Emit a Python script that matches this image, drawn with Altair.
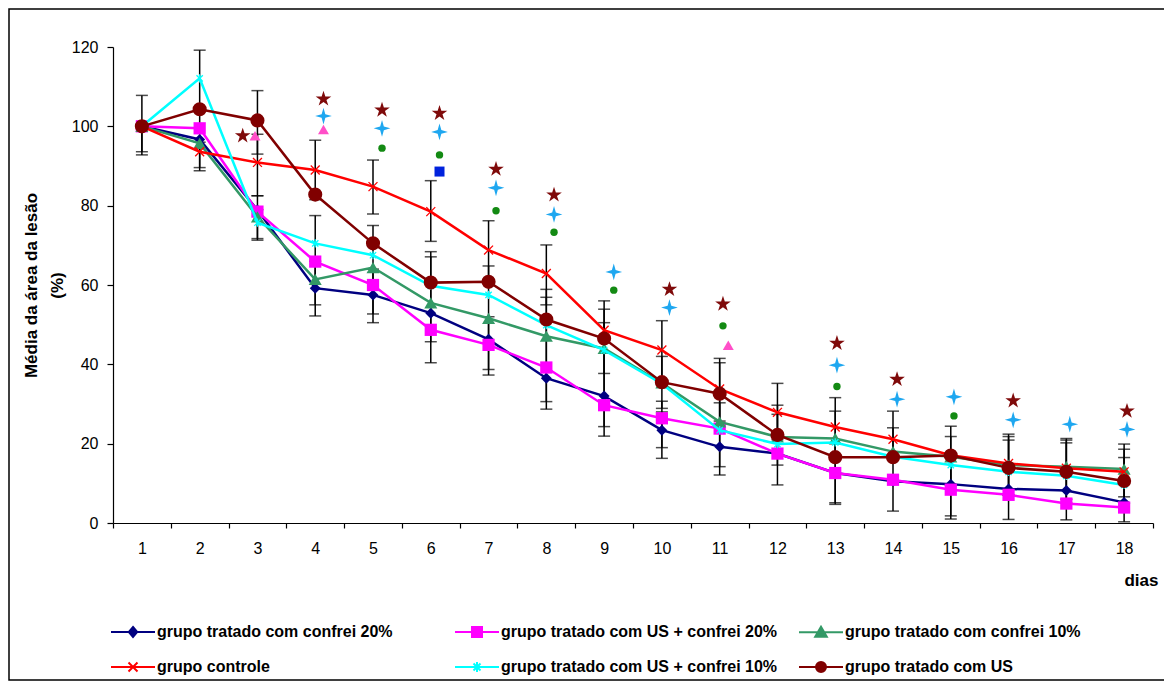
import altair as alt
import pandas as pd

# ---------------- data ----------------
dias = list(range(1, 19))
series = [
    "grupo tratado com confrei 20%",
    "grupo tratado com US + confrei 20%",
    "grupo tratado com confrei 10%",
    "grupo controle",
    "grupo tratado com US + confrei 10%",
    "grupo tratado com US",
]
confrei20 = [100, 96.7, 78.9, 59.2, 57.5, 52.9, 46.3, 36.5, 32.0, 23.4, 19.2, 17.5, 12.6, 10.5, 9.8, 8.6, 8.2, 5.2]
us_confrei20 = [100, 99.5, 78.5, 65.9, 60.0, 48.7, 44.9, 39.2, 29.7, 26.4, 23.8, 17.5, 12.6, 10.9, 8.4, 7.1, 4.9, 3.9]
confrei10 = [100, 95.7, 77.2, 61.4, 64.4, 55.5, 51.6, 47.1, 44.0, 35.3, 25.5, 21.7, 21.3, 18.0, 16.7, 14.6, 14.2, 13.6]
controle = [100, 93.6, 90.9, 89.0, 84.8, 78.5, 68.8, 62.9, 48.6, 43.6, 33.8, 27.9, 24.2, 21.1, 17.1, 15.0, 13.8, 12.9]
us_confrei10 = [100, 112.1, 75.7, 70.5, 67.5, 59.8, 57.5, 49.9, 43.6, 35.1, 23.4, 19.9, 20.3, 16.7, 14.6, 12.9, 11.9, 9.6]
us = [100, 104.3, 101.5, 82.8, 70.5, 60.6, 60.8, 51.3, 46.5, 35.5, 32.6, 22.2, 16.6, 16.6, 17.0, 13.9, 12.9, 10.6]
valores = [confrei20, us_confrei20, confrei10, controle, us_confrei10, us]

# error bars (day, lower end, upper end)
eb_dia = [1, 1, 2, 2, 3, 3, 3, 3, 4, 4, 4, 5, 5, 5, 6, 6, 6, 7, 7, 7, 8, 8, 8, 9, 9, 9,
          10, 10, 10, 10, 11, 11, 11, 11, 12, 12, 12, 13, 13, 13, 14, 14, 15, 15, 15,
          16, 16, 16, 17, 17, 17, 18, 18, 18]
eb_min = [92.8, 93.6, 88.8, 89.6, 93.0, 82.5, 71.3, 71.7, 81.5, 55.0, 52.2, 77.9, 50.5, 52.7,
          71.0, 45.7, 40.4, 61.0, 38.7, 37.3, 55.0, 28.7, 30.6, 37.7, 24.3, 21.9,
          36.0, 28.9, 16.3, 19.0, 25.7, 24.5, 12.1, 14.2, 21.0, 9.6, 14.6, 16.5, 4.7, 5.1,
          16.5, 3.0, 9.5, 1.0, 1.8, 7.0, 0.9, 7.0, 0.8, 5.0, 6.0, 6.6, 0.3, 5.0]
eb_max = [107.8, 100.0, 119.2, 96.0, 109.0, 98.0, 82.5, 79.0, 96.5, 77.5, 66.0, 91.5, 75.0, 64.0,
          86.3, 68.4, 67.1, 76.2, 64.8, 52.0, 70.1, 58.9, 56.9, 56.0, 53.9, 50.5,
          51.0, 42.0, 30.7, 28.0, 41.5, 40.4, 30.3, 25.0, 35.2, 29.7, 27.4, 31.6, 28.2, 20.0,
          28.2, 24.0, 24.4, 21.8, 17.0, 22.4, 21.8, 20.9, 21.3, 20.9, 20.2, 19.9, 18.6, 16.5]

# significance symbols above the curves
estrela_x = [2.745, 4.143, 5.156, 6.151, 7.129, 8.133, 10.131, 11.057, 13.03, 14.07, 16.08, 18.05]
estrela_y = [97.6, 106.9, 104.1, 103.3, 89.2, 82.7, 58.9, 55.2, 45.3, 36.2, 30.8, 28.2]
cruz_x = [4.143, 5.156, 6.151, 7.129, 8.133, 9.167, 10.131, 13.03, 14.07, 15.055, 16.08, 17.06, 18.05]
cruz_y = [102.6, 99.5, 98.6, 84.5, 77.8, 63.3, 54.3, 39.8, 31.2, 31.8, 26.0, 24.9, 23.6]
ponto_x = [5.156, 6.151, 7.129, 8.133, 9.167, 11.057, 13.03, 15.055]
ponto_y = [94.5, 92.8, 78.7, 73.3, 58.7, 49.7, 34.4, 27.0]
triang_x = [2.958, 4.143, 11.149]
triang_y = [97.6, 99.2, 44.8]
quad_x = [6.151]
quad_y = [88.6]

eixo_y = [0, 20, 40, 60, 80, 100, 120]

# ---------------- styles ----------------
cores = ["#000080", "#ff00ff", "#339966", "#ff0000", "#00ffff", "#800000"]
marcadores = [
    dict(shape="diamond", size=120, filled=True, strokeWidth=0),
    dict(shape="square", size=150, filled=True, strokeWidth=0),
    dict(shape="triangle-up", size=170, filled=True, strokeWidth=0),
    dict(shape="M-1,-1L1,1M-1,1L1,-1", size=80, filled=False, strokeWidth=1.3),
    dict(shape="M-1,-1L1,1M-1,1L1,-1M0,-1.3V1.3", size=40, filled=False, strokeWidth=1.3),
    dict(shape="circle", size=200, filled=True, strokeWidth=0),
]
linha = "M-2.2,0H2.2"
legenda_paths = [
    linha + "M0,-0.5L0.42,0L0,0.5L-0.42,0Z",
    linha + "M-0.5,-0.5H0.5V0.5H-0.5Z",
    linha + "M0,-0.55L0.58,0.45H-0.58Z",
    linha + "M-0.45,-0.45L0.45,0.45M-0.45,0.45L0.45,-0.45",
    linha + "M-0.35,-0.35L0.35,0.35M-0.35,0.35L0.35,-0.35M0,-0.5V0.5",
    linha + "M0.5,0A0.5,0.5,0,1,1,-0.5,0A0.5,0.5,0,1,1,0.5,0Z",
]

FONT = "Liberation Sans"
W, H = 1040, 476
PAD_L, PAD_T = 105, 39
STEP = W / 18.0

df = pd.DataFrame(
    [{"dia": d, "valor": v, "serie": s} for s, vals in zip(series, valores) for d, v in zip(dias, vals)]
)
df_eb = pd.DataFrame({"dia": eb_dia, "lo": eb_min, "hi": eb_max})

limites = [d - 0.5 for d in dias] + [dias[-1] + 0.5]

x_enc = alt.X(
    "dia:Q",
    scale=alt.Scale(domain=[0.5, 18.5], nice=False, zero=False),
    axis=alt.Axis(
        values=limites,
        labelExpr="datum.value < 18 ? format(datum.value + 0.5, 'd') : ''",
        labelOffset=STEP / 2,
        labelOverlap=False,
        labelFlush=False,
        labelPadding=12,
        tickSize=5,
        grid=False,
        title="dias",
        titleX=W + 5,
        titleY=57,
        titleAlign="right",
        titleBaseline="middle",
        titleFontSize=17,
        titleFontWeight="bold",
    ),
)
y_scale = alt.Scale(domain=[0, 120], nice=False, zero=True)
y_enc = alt.Y(
    "valor:Q",
    scale=y_scale,
    axis=alt.Axis(
        values=eixo_y,
        grid=False,
        tickSize=6,
        labelPadding=9,
        title=["Média da área da lesão", "(%)"],
        titleFontSize=17,
        titleFontWeight="bold",
        titleLineHeight=26,
        titleX=-90,
        titleY=H / 2,
        titleAlign="center",
        titleBaseline="top",
        titleAngle=270,
    ),
)

camadas = []

# outer frame (decoration)
frame = alt.Chart(pd.DataFrame({"a": [0]})).mark_rect(
    fillOpacity=0, stroke="#000000", strokeWidth=1.5
).encode(
    x=alt.value(-PAD_L + 1), x2=alt.value(W + 14),
    y=alt.value(-PAD_T + 1), y2=alt.value(H + 157),
)
camadas.append(frame)

# error bars
barras = alt.Chart(df_eb).mark_rule(color="#000000", strokeWidth=1.5).encode(
    x=x_enc, y=alt.Y("lo:Q", scale=y_scale), y2="hi:Q"
)
cap_lo = alt.Chart(df_eb).mark_tick(orient="horizontal", color="#000000", size=12, thickness=1.5).encode(
    x=x_enc, y=alt.Y("lo:Q", scale=y_scale)
)
cap_hi = alt.Chart(df_eb).mark_tick(orient="horizontal", color="#000000", size=12, thickness=1.5).encode(
    x=x_enc, y=alt.Y("hi:Q", scale=y_scale)
)
camadas += [barras, cap_lo, cap_hi]

# series: line + markers
for nome, cor, mk in zip(series, cores, marcadores):
    base = alt.Chart(df).transform_filter(alt.datum.serie == nome)
    camadas.append(base.mark_line(color=cor, strokeWidth=2.5).encode(x=x_enc, y=y_enc))
    camadas.append(
        base.mark_point(
            shape=mk["shape"], size=mk["size"], filled=mk["filled"], color=cor,
            strokeWidth=mk["strokeWidth"] if mk["strokeWidth"] else 1, opacity=1,
        ).encode(x=x_enc, y=y_enc)
    )

# significance symbols
STAR = "M0,-1L0.2245,-0.309L0.951,-0.309L0.363,0.118L0.588,0.809L0,0.382L-0.588,0.809L-0.363,0.118L-0.951,-0.309L-0.2245,-0.309Z"
CRUZ4 = "M0,-1L0.22,-0.22L1,0L0.22,0.22L0,1L-0.22,0.22L-1,0L-0.22,-0.22Z"
simbolos = [
    (estrela_x, estrela_y, STAR, 270, "#7f0a0a"),
    (cruz_x, cruz_y, CRUZ4, 280, "#1ea7f0"),
    (ponto_x, ponto_y, "circle", 55, "#138a13"),
    (triang_x, triang_y, "triangle-up", 120, "#ff4fc8"),
    (quad_x, quad_y, "square", 100, "#0022dd"),
]
for xs, ys, shp, sz, cor in simbolos:
    camadas.append(
        alt.Chart(pd.DataFrame({"dia": xs, "valor": ys}))
        .mark_point(shape=shp, size=sz, filled=True, color=cor, opacity=1)
        .encode(x=x_enc, y=y_enc)
    )

# legend (no drawn marks, only the legend built from the scales)
leg = alt.Legend(
    orient="none",
    legendX=9,
    legendY=574,
    columns=3,
    direction="horizontal",
    title=None,
    labelFont=FONT,
    labelFontSize=16,
    labelFontWeight="bold",
    labelColor="#000000",
    labelLimit=0,
    labelOffset=13,
    symbolSize=400,
    symbolStrokeWidth=2,
    symbolOpacity=1,
    columnPadding=17,
    rowPadding=15,
    gridAlign="all",
)
legenda = (
    alt.Chart(df)
    .transform_filter("false")
    .mark_point(filled=True, size=400, opacity=1)
    .encode(
        x=x_enc,
        y=y_enc,
        color=alt.Color("serie:N", scale=alt.Scale(domain=series, range=cores), legend=leg),
        stroke=alt.Stroke("serie:N", scale=alt.Scale(domain=series, range=cores), legend=leg),
        shape=alt.Shape("serie:N", scale=alt.Scale(domain=series, range=legenda_paths), legend=leg),
    )
)
camadas.append(legenda)

chart = (
    alt.layer(*camadas)
    .properties(
        width=W,
        height=H,
        autosize=alt.AutoSizeParams(type="none"),
        padding={"left": PAD_L, "top": PAD_T, "right": 1156 - PAD_L - W, "bottom": 674 - PAD_T - H},
    )
    .configure_view(strokeWidth=0)
    .configure_axis(
        labelFont=FONT,
        labelFontSize=16,
        labelColor="#000000",
        titleFont=FONT,
        titleColor="#000000",
        domainColor="#000000",
        domainWidth=1.2,
        tickColor="#000000",
        tickWidth=1.2,
    )
    .configure_legend(labelFont=FONT)
)

chart.save("out.html", embed_options={"renderer": "svg", "actions": False})
